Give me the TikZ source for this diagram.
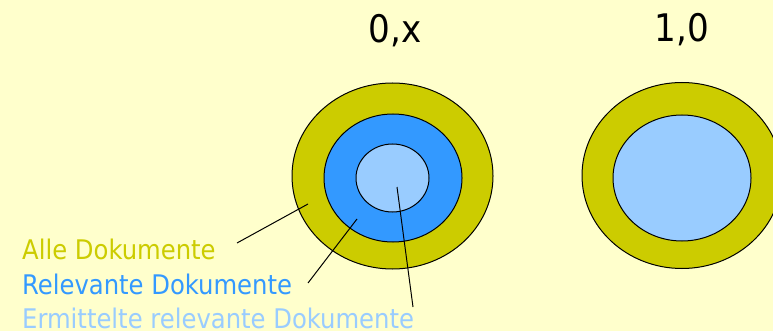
\documentclass[tikz,border=0pt]{standalone}
\usepackage{fontspec}
\setmainfont{DejaVu Sans Condensed}
\definecolor{bgyellow}{HTML}{FFFFCC}
\definecolor{olive}{HTML}{CCCC00}
\definecolor{midblue}{HTML}{3399FF}
\definecolor{lightblue}{HTML}{99CCFF}
\begin{document}
\begin{tikzpicture}[x=1pt,y=-1pt,
  ring/.style={draw=black,line width=1pt},
  conn/.style={draw=black,line width=1pt},
  title/.style={font=\fontsize{38}{40}\selectfont,anchor=base,inner sep=0pt},
  legend/.style={font=\fontsize{27}{30}\selectfont,anchor=base west,inner sep=0pt}]
\useasboundingbox[fill=bgyellow] (0,0) rectangle (773,331);
% left target
\path[ring,fill=olive] (392.5,176) ellipse [x radius=100.5,y radius=93];
\path[ring,fill=midblue] (393,178) ellipse [x radius=69,y radius=64];
\path[ring,fill=lightblue] (392.5,178) ellipse [x radius=36.5,y radius=34];
% right target
\path[ring,fill=olive] (682,175.5) ellipse [x radius=100,y radius=93];
\path[ring,fill=lightblue] (682,178) ellipse [x radius=69,y radius=63];
% titles
\node[title] (t1) at (395,43) {0,x};
\node[title] (t2) at (682,42) {1,0};
% legend
\node[legend,text=olive] (l1) at (22,259) {Alle Dokumente};
\node[legend,text=midblue] (l2) at (22,294) {Relevante Dokumente};
\node[legend,text=lightblue] (l3) at (22,328) {Ermittelte relevante Dokumente};
% connector ends
\coordinate (a1) at (237,243);
\coordinate (b1) at (308,204);
\coordinate (a2) at (308,283);
\coordinate (b2) at (357,219);
\coordinate (a3) at (413,307);
\coordinate (b3) at (397,187);
\draw[conn] (a1) -- (b1);
\draw[conn] (a2) -- (b2);
\draw[conn] (a3) -- (b3);
\end{tikzpicture}
\end{document}
